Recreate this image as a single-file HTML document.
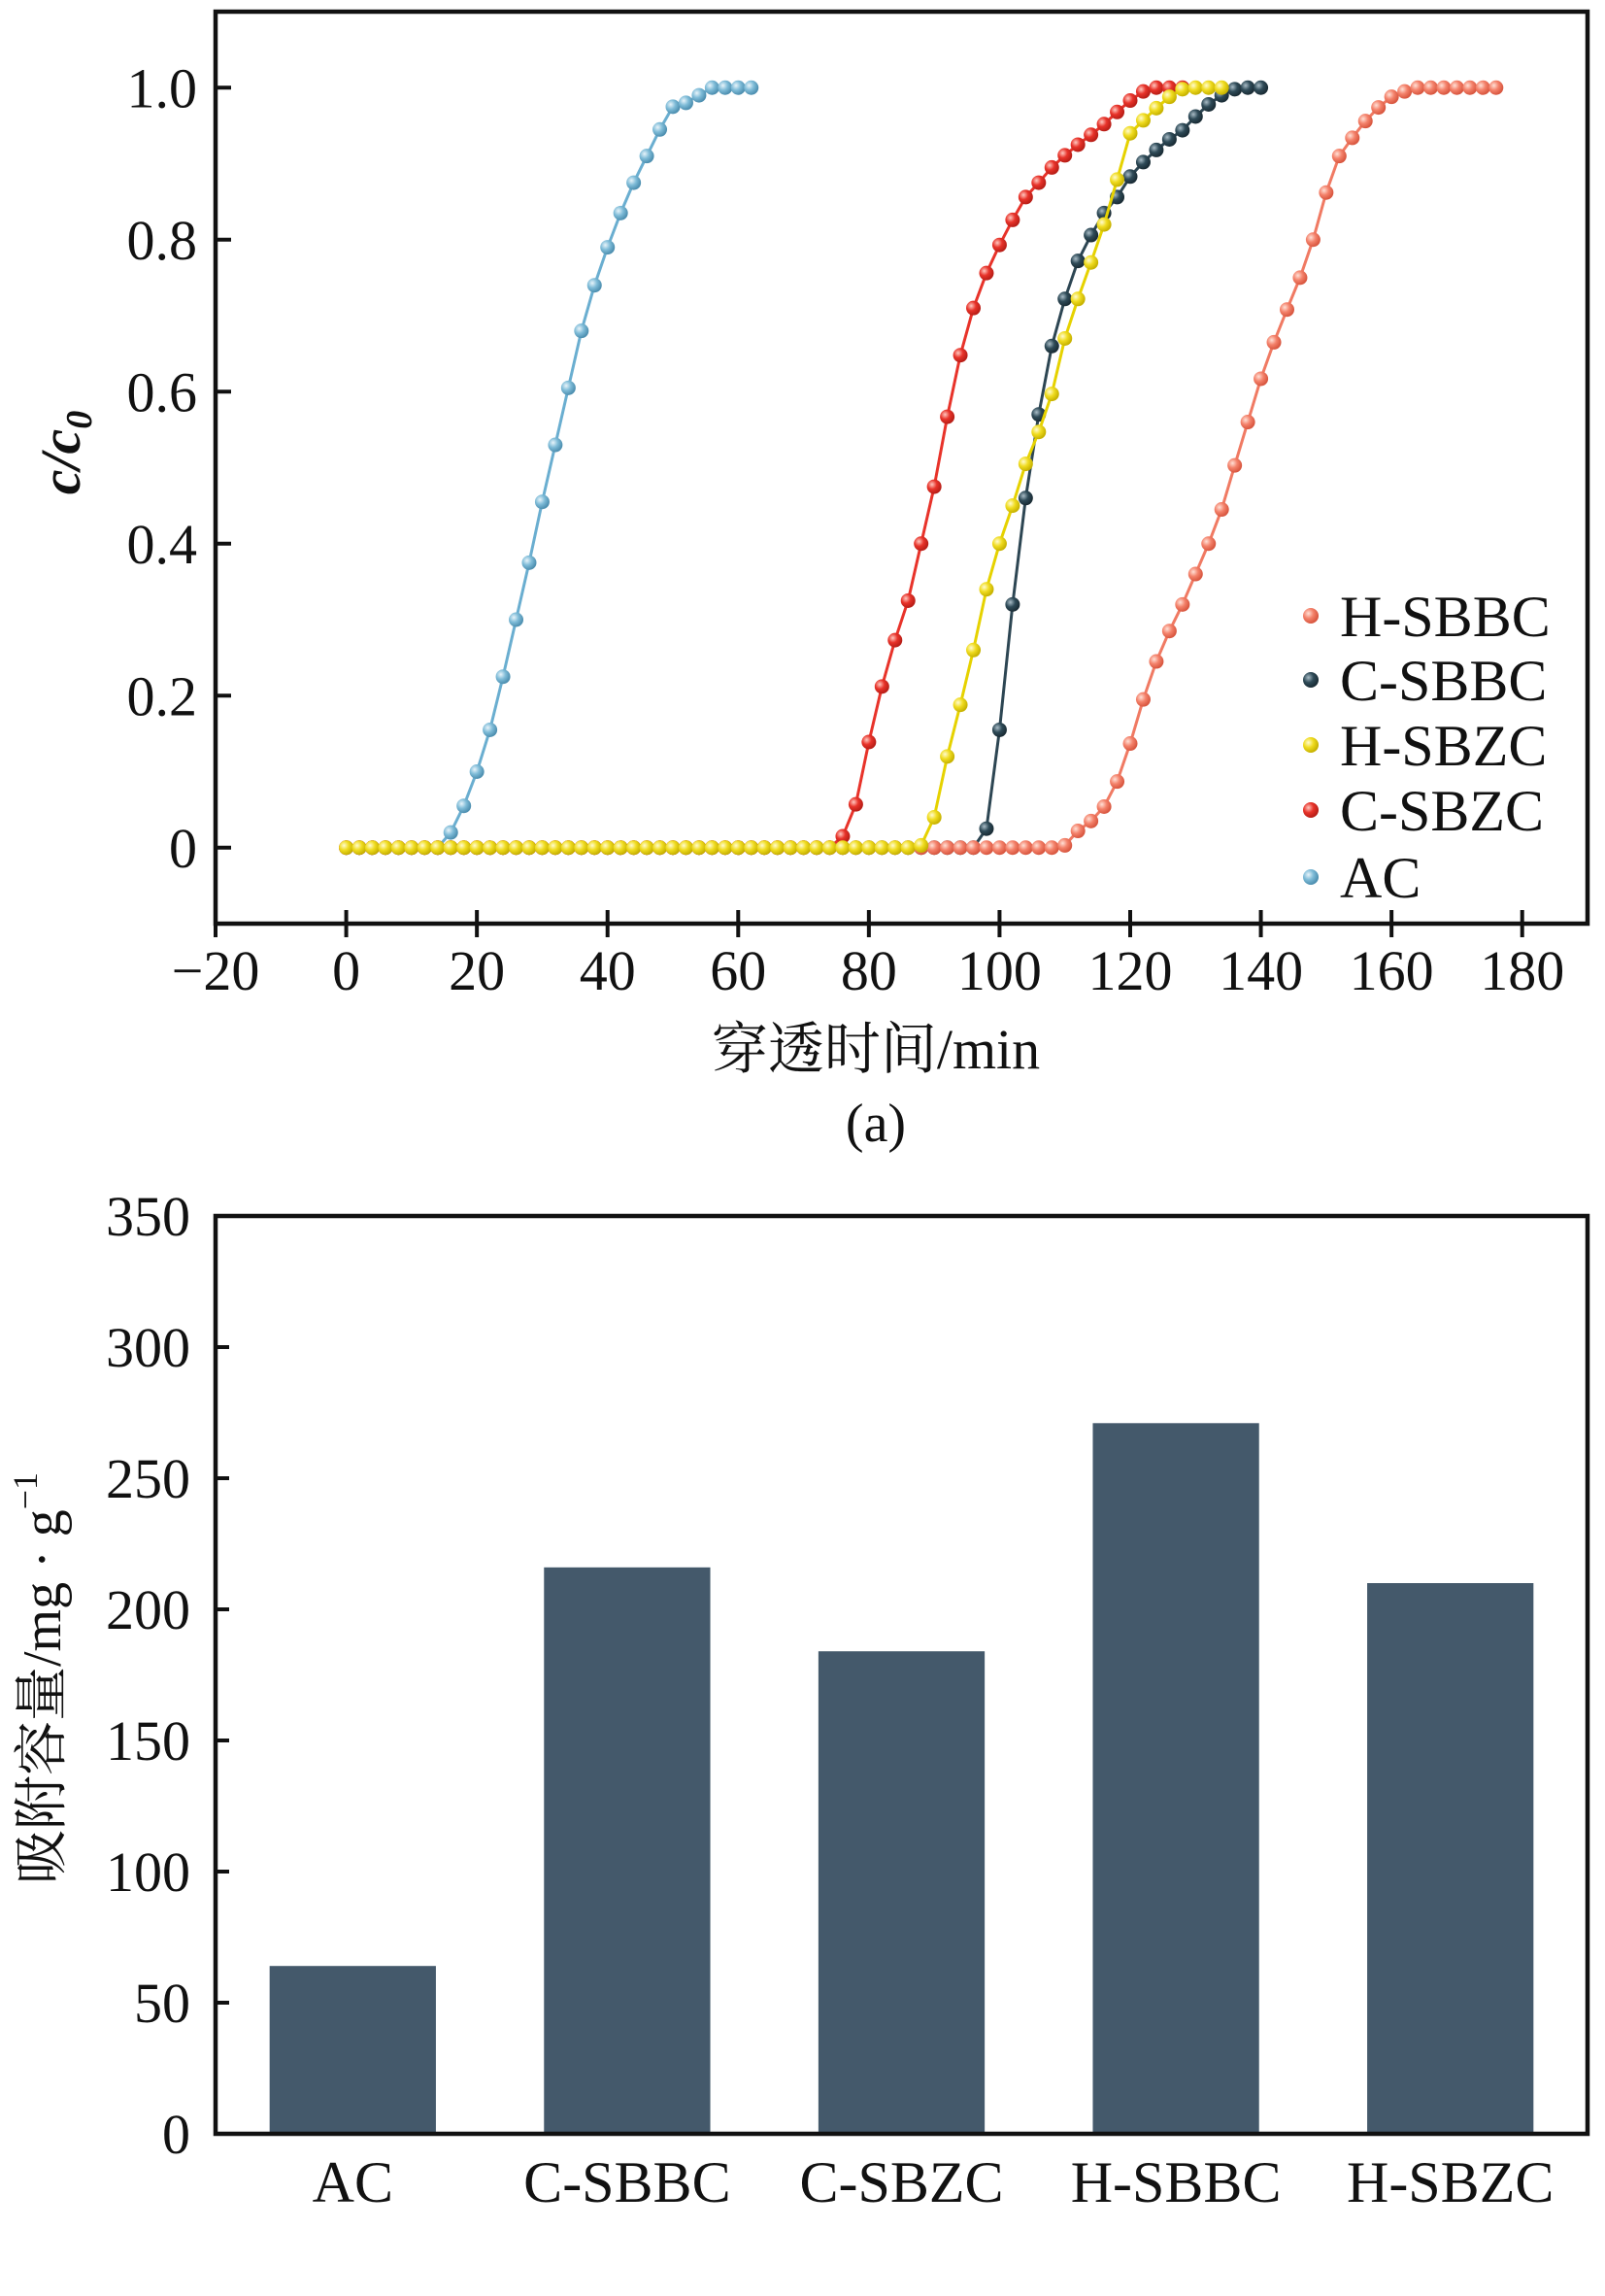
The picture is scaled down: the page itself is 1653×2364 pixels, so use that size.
<!DOCTYPE html>
<html><head><meta charset="utf-8"><style>
html,body{margin:0;padding:0;background:#fff;}
svg{display:block;}
text{font-family:"Liberation Serif","Noto Serif CJK SC",serif;fill:#111;}
</style></head><body>
<svg id="fig" width="1653" height="2364" viewBox="0 0 1653 2364" xmlns="http://www.w3.org/2000/svg">
<defs>
<radialGradient id="gAC" cx="35%" cy="35%" r="65%"><stop offset="0" stop-color="#e8f4fa"/><stop offset="0.5" stop-color="#7fbcd8"/><stop offset="1" stop-color="#4d8fb0"/></radialGradient>
<radialGradient id="gHB" cx="35%" cy="35%" r="65%"><stop offset="0" stop-color="#ffe0d6"/><stop offset="0.5" stop-color="#f4826b"/><stop offset="1" stop-color="#d8563f"/></radialGradient>
<radialGradient id="gCB" cx="35%" cy="35%" r="65%"><stop offset="0" stop-color="#a9bcc6"/><stop offset="0.5" stop-color="#2f4b58"/><stop offset="1" stop-color="#1a2c35"/></radialGradient>
<radialGradient id="gCZ" cx="35%" cy="35%" r="65%"><stop offset="0" stop-color="#ffc8c0"/><stop offset="0.5" stop-color="#e8332a"/><stop offset="1" stop-color="#b81e17"/></radialGradient>
<radialGradient id="gHZ" cx="35%" cy="35%" r="65%"><stop offset="0" stop-color="#fffbd0"/><stop offset="0.5" stop-color="#f0dc20"/><stop offset="1" stop-color="#c7b200"/></radialGradient>
</defs>
<g id="topChart"></g>
<g id="bottomChart"></g>
</svg>
<script>
// ---- Chart (a) data ----
const xTicks = [-20, 0, 20, 40, 60, 80, 100, 120, 140, 160, 180];
const yTicks = [0, 0.2, 0.4, 0.6, 0.8, 1.0];
const yTickLabels = ["0", "0.2", "0.4", "0.6", "0.8", "1.0"];
const seriesNames = ["H-SBBC", "C-SBBC", "H-SBZC", "C-SBZC", "AC"];
const timeStep = 2;
const acValues = [0,0,0,0,0,0,0,0,0.02,0.055,0.10,0.155,0.225,0.30,0.375,0.455,0.53,0.605,0.68,0.74,0.79,0.835,0.875,0.91,0.945,0.975,0.98,0.99,1,1,1,1];
const hsbbcValues = [0,0,0,0,0,0,0,0,0,0,0,0,0,0,0,0,0,0,0,0,0,0,0,0,0,0,0,0,0,0,0,0,0,0,0,0,0,0,0,0,0,0,0,0,0,0,0,0,0,0,0,0,0,0,0,0.003,0.022,0.035,0.054,0.087,0.137,0.195,0.245,0.285,0.32,0.36,0.40,0.445,0.503,0.56,0.617,0.665,0.708,0.75,0.80,0.862,0.91,0.934,0.956,0.974,0.988,0.995,1,1,1,1,1,1,1];
const csbbcValues = [0,0,0,0,0,0,0,0,0,0,0,0,0,0,0,0,0,0,0,0,0,0,0,0,0,0,0,0,0,0,0,0,0,0,0,0,0,0,0,0,0,0,0,0,0,0,0,0,0,0.025,0.155,0.32,0.46,0.57,0.66,0.722,0.772,0.806,0.835,0.856,0.883,0.902,0.918,0.932,0.944,0.962,0.978,0.99,0.998,1,1];
const csbzcValues = [0,0,0,0,0,0,0,0,0,0,0,0,0,0,0,0,0,0,0,0,0,0,0,0,0,0,0,0,0,0,0,0,0,0,0,0,0,0,0.015,0.057,0.139,0.212,0.273,0.325,0.40,0.475,0.567,0.648,0.71,0.756,0.793,0.826,0.856,0.875,0.895,0.911,0.925,0.938,0.952,0.968,0.983,0.995,1,1,1];
const hsbzcValues = [0,0,0,0,0,0,0,0,0,0,0,0,0,0,0,0,0,0,0,0,0,0,0,0,0,0,0,0,0,0,0,0,0,0,0,0,0,0,0,0,0,0,0,0,0.003,0.04,0.12,0.188,0.26,0.34,0.40,0.45,0.505,0.547,0.597,0.67,0.722,0.77,0.82,0.879,0.94,0.957,0.973,0.988,0.998,1,1,1];
// ---- Chart (b) data ----
const barCategories = ["AC", "C-SBBC", "C-SBZC", "H-SBBC", "H-SBZC"];
const barValues = [64, 216, 184, 271, 210];
const barTicks = [0, 50, 100, 150, 200, 250, 300, 350];

const NS = "http://www.w3.org/2000/svg";
function mk(parent, tag, attrs, txt){
  const e = document.createElementNS(NS, tag);
  for (const k in attrs) e.setAttribute(k, attrs[k]);
  if (txt !== undefined) e.textContent = txt;
  parent.appendChild(e);
  return e;
}

// ===== Chart (a) =====
const topG = document.getElementById("topChart");
const A = {l:222, r:1635, t:12, b:951, x0:-20, x1:190, y0:-0.1, y1:1.1};
const sx = v => A.l + (v - A.x0) / (A.x1 - A.x0) * (A.r - A.l);
const sy = v => A.b - (v - A.y0) / (A.y1 - A.y0) * (A.b - A.t);

xTicks.forEach(v => {
  const t = mk(topG, "line", {x1:sx(v), x2:sx(v), y1:A.b-14, y2:A.b+14, stroke:"#111", "stroke-width":4});
  
  
  const lb = mk(topG, "text", {x:sx(v), y:1019, "text-anchor":"middle", "font-size":58}, v < 0 ? "\u2212" + Math.abs(v) : String(v));
  
  
});
yTicks.forEach((v, i) => {
  const t = mk(topG, "line", {x1:A.l, x2:A.l+16, y1:sy(v), y2:sy(v), stroke:"#111", "stroke-width":4});
  
  
  const lb = mk(topG, "text", {x:203, y:sy(v)+20, "text-anchor":"end", "font-size":58}, yTickLabels[i]);
  
  
});

const series = [
  {name:"AC", vals:acValues, line:"#6aaed0", grad:"gAC"},
  {name:"C-SBBC", vals:csbbcValues, line:"#2d4653", grad:"gCB"},
  {name:"H-SBBC", vals:hsbbcValues, line:"#f07a63", grad:"gHB"},
  {name:"C-SBZC", vals:csbzcValues, line:"#e8332a", grad:"gCZ"},
  {name:"H-SBZC", vals:hsbzcValues, line:"#e6d200", grad:"gHZ"}
];
series.forEach(s => {
  const g = mk(topG, "g", {});
  
  
  const pts = s.vals.map((v, i) => sx(i*timeStep) + "," + sy(v)).join(" ");
  const pl = mk(g, "polyline", {points:pts, fill:"none", stroke:s.line, "stroke-width":3});
  
  
  s.vals.forEach((v, i) => {
    const c = mk(g, "circle", {cx:sx(i*timeStep), cy:sy(v), r:7.5, fill:"url(#" + s.grad + ")"});
    
    
  });
});

const fa = mk(topG, "rect", {x:A.l, y:A.t, width:A.r-A.l, height:A.b-A.t, fill:"none", stroke:"#111", "stroke-width":4.5});



const legendGrad = {"H-SBBC":"gHB","C-SBBC":"gCB","H-SBZC":"gHZ","C-SBZC":"gCZ","AC":"gAC"};
const legendY = [634, 700, 767, 834, 903];
seriesNames.forEach((n, i) => {
  const g = mk(topG, "g", {});
  
  
  mk(g, "circle", {cx:1350, cy:legendY[i], r:8, fill:"url(#" + legendGrad[n] + ")"});
  mk(g, "text", {x:1380, y:legendY[i]+21, "font-size":60}, n);
});

const yt = mk(topG, "text", {transform:"translate(82,466) rotate(-90)", "text-anchor":"middle", "font-size":58, "font-style":"italic", "font-weight":"bold"});


yt.innerHTML = 'c/c<tspan font-size="38" dy="12">0</tspan>';
const xt = mk(topG, "text", {x:902, y:1100, "text-anchor":"middle", "font-size":58}, "穿透时间/min");


const pa = mk(topG, "text", {x:902, y:1175, "text-anchor":"middle", "font-size":56}, "(a)");



// ===== Chart (b) =====
const botG = document.getElementById("bottomChart");
const B = {l:222, r:1635, t:1252, b:2197, y0:0, y1:350};
const by = v => B.b - (v - B.y0) / (B.y1 - B.y0) * (B.b - B.t);
const band = (B.r - B.l) / barCategories.length;
const bx = i => B.l + band * (i + 0.5);
const bw = band * 0.606;

barTicks.forEach(v => {
  const t = mk(botG, "line", {x1:B.l, x2:B.l+14, y1:by(v), y2:by(v), stroke:"#111", "stroke-width":4});
  
  
  const lb = mk(botG, "text", {x:196, y:by(v)+20, "text-anchor":"end", "font-size":58}, String(v));
  
  
});
barCategories.forEach((c, i) => {
  const r = mk(botG, "rect", {x:bx(i)-bw/2, y:by(barValues[i]), width:bw, height:by(0)-by(barValues[i]), fill:"#44596b"});
  
  
  const lb = mk(botG, "text", {x:bx(i), y:2267, "text-anchor":"middle", "font-size":60}, c);
  
  
});
const fb = mk(botG, "path", {d:`M${B.l},${B.t} H${B.r} V${B.b} H${B.l} Z`, fill:"none", stroke:"#111", "stroke-width":4.5});


const yb = mk(botG, "text", {transform:"translate(62,1728) rotate(-90)", "text-anchor":"middle", "font-size":56});


yb.innerHTML = '吸附容量/mg · g<tspan font-size="36" dy="-24">−1</tspan>';
</script>
</body></html>
